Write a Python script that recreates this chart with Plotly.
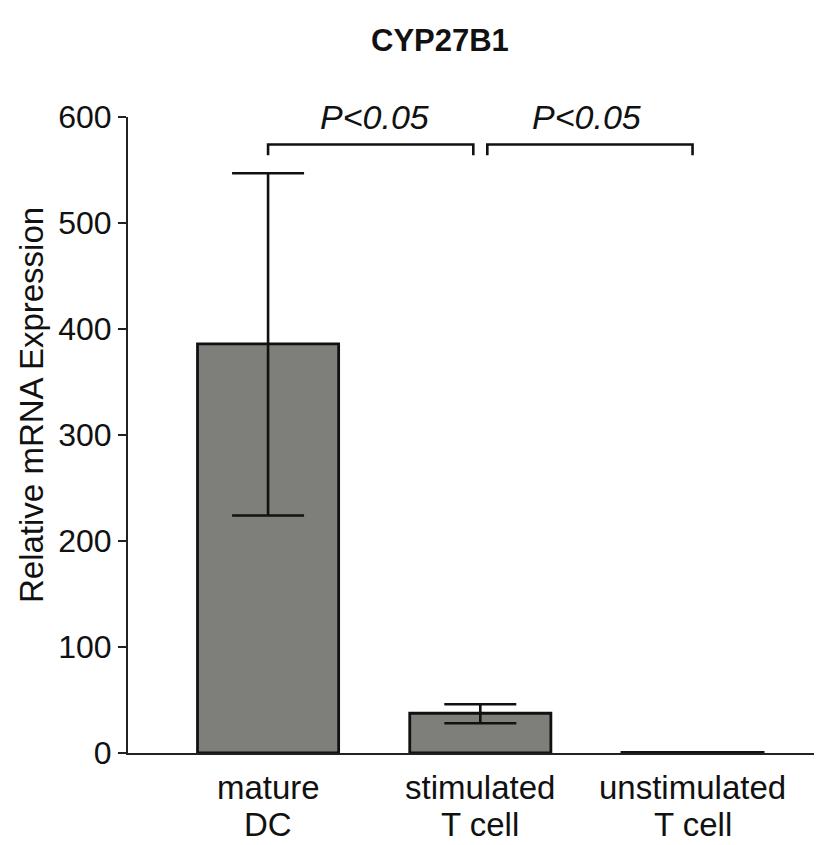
import plotly.graph_objects as go

# data
groups_line1 = ["mature", "stimulated", "unstimulated"]
groups_line2 = ["DC", "T cell", "T cell"]
means = [386, 37.5, 0.6]
err_up = [161, 8.5, 0]
err_down = [162, 9.5, 0]
y_ticks = [0, 100, 200, 300, 400, 500, 600]

# significance comparisons (group index pairs) and labels
comparisons = [(0, 1), (1, 2)]
p_labels = ["P<0.05", "P<0.05"]
bracket_y = 574
bracket_drop = 10
bracket_gap = 0.033

FONT = "Liberation Sans, Arial, sans-serif"
INK = "#111111"

fig = go.Figure()

fig.add_trace(
    go.Bar(
        x=list(range(len(means))),
        y=means,
        width=0.665,
        marker=dict(color="#7e7e7a", line=dict(color=INK, width=2.8)),
        error_y=dict(
            type="data",
            symmetric=False,
            array=err_up,
            arrayminus=err_down,
            color=INK,
            thickness=2.6,
            width=36,
        ),
    )
)

shapes = []
annotations = []
for k, (a, b) in enumerate(comparisons):
    x0 = a + (bracket_gap if k > 0 else 0)
    x1 = b - (bracket_gap if k == 0 else 0)
    shapes.append(
        dict(
            type="path",
            xref="x",
            yref="y",
            path=f"M {x0},{bracket_y - bracket_drop} L {x0},{bracket_y} "
                 f"L {x1},{bracket_y} L {x1},{bracket_y - bracket_drop}",
            line=dict(color=INK, width=2.6),
        )
    )
    annotations.append(
        dict(
            x=(a + b) / 2,
            y=600,
            xref="x",
            yref="y",
            text=f"<i>{p_labels[k]}</i>",
            showarrow=False,
            font=dict(family=FONT, size=34, color=INK),
            yanchor="middle",
        )
    )

# two-line category labels (tighter spacing than plotly's <br>)
for i, (l1, l2) in enumerate(zip(groups_line1, groups_line2)):
    annotations.append(
        dict(x=i, y=-0.054, xref="x", yref="paper", text=l1, showarrow=False,
             yanchor="middle", font=dict(family=FONT, size=33, color=INK))
    )
    annotations.append(
        dict(x=i, y=-0.113, xref="x", yref="paper", text=l2, showarrow=False,
             yanchor="middle", font=dict(family=FONT, size=33, color=INK))
    )

# chart title
annotations.append(
    dict(
        x=(440 - 128) / 694,
        y=1 + (117 - 40) / 636,
        xref="paper",
        yref="paper",
        text="<b>CYP27B1</b>",
        showarrow=False,
        yanchor="middle",
        font=dict(family=FONT, size=31, color=INK),
    )
)

# y-axis title, placed a little above the plot centre as in the reference
annotations.append(
    dict(
        x=(31 - 128) / 694,
        y=(753 - 405) / 636,
        xref="paper",
        yref="paper",
        text="Relative mRNA Expression",
        textangle=-90,
        showarrow=False,
        xanchor="center",
        yanchor="middle",
        font=dict(family=FONT, size=33, color=INK),
    )
)

fig.update_layout(
    width=814,
    height=837,
    margin=dict(l=120, r=0, t=109, b=92),
    paper_bgcolor="white",
    plot_bgcolor="white",
    showlegend=False,
    shapes=shapes,
    annotations=annotations,
    font=dict(family=FONT, size=26, color=INK),
)

fig.update_xaxes(
    range=[-0.66, 2.61],
    showticklabels=False,
    showline=True,
    linecolor="#222222",
    linewidth=2,
    ticks="",
    showgrid=False,
    zeroline=False,
)

fig.update_yaxes(
    range=[0, 600],
    tickvals=y_ticks,
    showline=True,
    linecolor="#222222",
    linewidth=2,
    ticks="outside",
    ticklen=8,
    tickwidth=2,
    tickcolor="#222222",
    showgrid=False,
    zeroline=False,
    tickfont=dict(family=FONT, size=32, color=INK),
)

fig.write_html("out.html")
